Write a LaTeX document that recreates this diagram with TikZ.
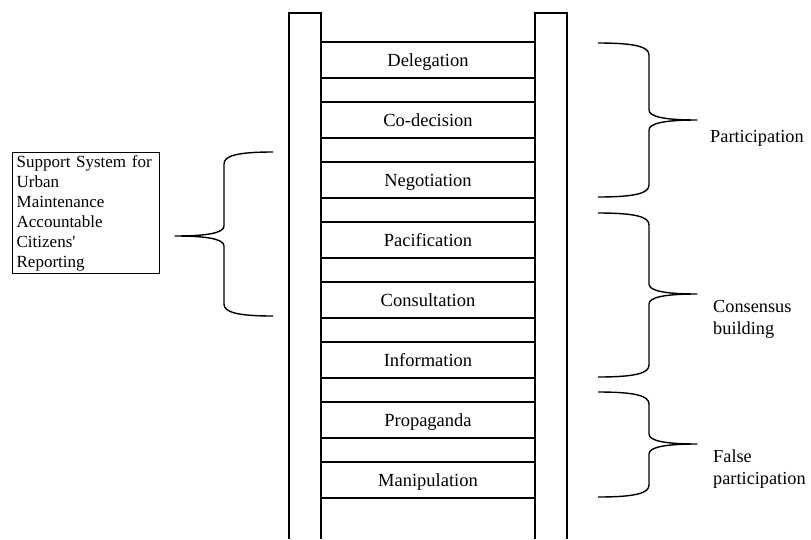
\documentclass[tikz,border=0pt]{standalone}
\usepackage{fontspec}
\setmainfont{Liberation Serif}
\newcommand\mybrace[6]{%
  \draw[bracestyle] (#1,#4) .. controls ({#1+0.75*(#2-#1)},#4) and (#2,{#4+4}) .. (#2,{#4+12})
    -- (#2,{#5-10}) .. controls (#2,{#5-3}) and ({#2+0.35*(#3-#2)},#5) .. (#3,#5)
    .. controls ({#2+0.35*(#3-#2)},#5) and (#2,{#5+3}) .. (#2,{#5+10})
    -- (#2,{#6-12}) .. controls (#2,{#6-4}) and ({#1+0.75*(#2-#1)},#6) .. (#1,#6);}
\tikzset{
  rung/.style={draw, line width=1.3pt, minimum width=214pt, minimum height=36pt, inner sep=0pt, text height=13pt, text depth=1pt, font=\fontsize{18.5}{20}\selectfont},
  rail/.style={line width=1.4pt},
  bracestyle/.style={line width=1.4pt, line join=round},
  lbl/.style={anchor=west, align=left, font=\fontsize{18.3}{22}\selectfont, inner sep=0pt},
  sysbox/.style={draw, line width=1.3pt, anchor=north west, inner xsep=4pt, inner ysep=0pt, text width=139pt, minimum height=121pt, align=left, font=\fontsize{17}{20}\selectfont}
}
\begin{document}
\begin{tikzpicture}[x=1pt,y=-1pt]
\useasboundingbox (0,0) rectangle (811,539);
% rails
\draw[rail] (289,539) -- (289,13) -- (321,13) -- (321,539);
\draw[rail] (535,539) -- (535,13) -- (567,13) -- (567,539);
% rungs
\node[rung] (deleg) at (428,60) {Delegation};
\node[rung] (codec) at (428,120) {Co-decision};
\node[rung] (nego) at (428,180) {Negotiation};
\node[rung] (pacif) at (428,240) {Pacification};
\node[rung] (consul) at (428,300) {Consultation};
\node[rung] (inform) at (428,360) {Information};
\node[rung] (propa) at (428,420) {Propaganda};
\node[rung] (manip) at (428,480) {Manipulation};
% left box
\node[sysbox] (sys) at (12,152) {Support System for\\Urban\\Maintenance\\Accountable\\Citizens\textquotesingle\\Reporting};
% braces
\mybrace{273}{224}{175}{152}{236}{316}
\mybrace{598}{649}{697}{43}{120}{197}
\mybrace{598}{649}{697}{213}{294}{377}
\mybrace{598}{649}{697}{392}{444}{497}
% labels
\node[lbl] (part) at (710,138) {Participation};
\node[lbl] (cons) at (713,319) {Consensus\\building};
\node[lbl] (false) at (713,469) {False\\participation};
\end{tikzpicture}
\end{document}
